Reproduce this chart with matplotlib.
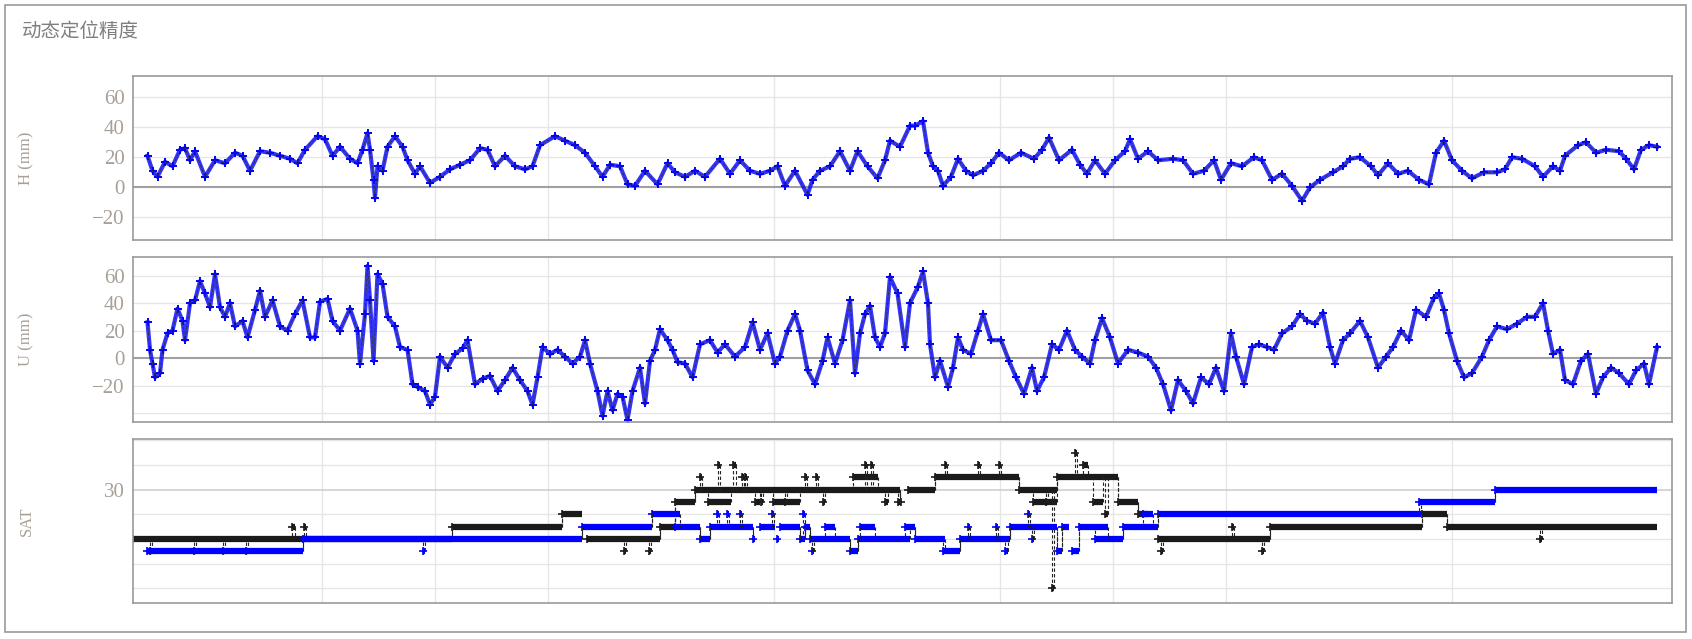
import matplotlib
matplotlib.use("Agg")
import matplotlib.pyplot as plt
from matplotlib.patches import Rectangle
import numpy as np

plt.rcParams['font.family'] = ['Noto Sans CJK SC', 'DejaVu Sans']

title = "动态定位精度"

# ---- H (mm) ----
h_t = [14.5,19.5,24.5,32,39.5,47,52,57,62,72,82,92,102,109.5,117,127,137,147,157,164.5,172,184.5,192,199.5,207,217,224.5,229.5,234.5,237,240.5,242,244.5,249.5,254.5,262,269.5,274.5,282,287,297,307,317,327,337,347,354.5,362,372,382,392,399.5,407,422,432,442,452,462,469.5,477,487,494.5,502,512,524.5,534.5,542,552,562,572,587,597,607,617,627,637,644.5,652,662,674.5,679.5,687,697,707,717,724.5,734.5,744.5,752,757,767,777,782,790,795,800,805,810,818,825,833,840,850,858,866,876,888,901,909,916,926,939,947,954,962,972,982,992,997,1005,1015,1025,1040,1050,1060,1071,1081,1088,1098,1109,1121,1129,1139,1149,1159,1169,1177,1187,1200,1210,1217,1227,1238,1245,1255,1265,1275,1286,1296,1303,1311,1319,1329,1339,1351,1364,1372,1379,1389,1402,1410,1420,1427,1432,1445,1453,1463,1473,1486,1493,1501,1508,1516,1524]
h_v = [21,11,7,17,14,25,26,18,24,7,18,16,23,21,11,24,23,21,19,16,25,34,32,21,27,19,16,25,36,25,5,-7,14,11,27,34,27,18,9,14,3,7,12,15,18,26,25,14,21,14,12,14,28,34,31,28,23,14,7,15,14,2,1,11,2,16,10,7,11,7,19,9,18,11,9,11,14,1,11,-5,5,11,14,24,11,24,14,6,18,31,27,41,41,44,23,14,11,1,7,19,11,8,11,16,23,18,23,19,25,33,18,25,15,9,18,9,18,24,32,19,24,18,19,18,9,11,18,5,16,14,20,18,5,9,1,-9,0,5,10,14,19,20,14,8,16,9,11,5,2,23,31,18,11,6,10,10,12,20,19,14,7,14,11,21,28,30,23,25,24,19,12,25,28,27]

# ---- U (mm) ----
u_t = [14.5,17,19.5,22,27,29.5,34.5,39.5,44.5,49.5,52,57,62,67,72,77,82,87,92,97,102,109.5,114.5,122,127,132,139.5,147,154.5,162,169.5,177,182,187,194.5,199.5,207,217,224.5,227,232,234.5,237,240.5,244.5,249.5,254.5,262,267,274.5,279.5,284.5,292,297,302,307,314.5,322,329.5,334.5,342,349.5,357,364.5,372,379.5,387,394.5,399.5,404.5,409.5,417,424.5,432,439.5,447,452,457,464.5,469.5,474.5,479.5,484.5,489.5,494.5,499.5,507,512,517,522,527,534.5,539.5,544.5,552,559.5,567,577,584.5,592,602,612,619.5,627,634.5,642,647,654.5,662,667,674.5,682,689.5,694.5,702,709.5,717,722,727,732,737,742,747,752,757,764.5,772,777,785,790,795,797,802,807,815,820,825,830,838,845,850,858,868,876,883,891,899,904,911,919,926,934,942,949,957,962,969,977,985,995,1005,1015,1023,1030,1038,1045,1053,1060,1068,1076,1083,1091,1098,1103,1111,1119,1126,1134,1141,1149,1159,1167,1174,1182,1190,1197,1202,1210,1217,1227,1235,1245,1253,1260,1268,1276,1283,1293,1301,1306,1311,1316,1324,1331,1339,1349,1356,1364,1374,1384,1394,1402,1410,1415,1420,1427,1432,1440,1448,1455,1463,1470,1478,1486,1496,1503,1511,1516,1524]
u_v = [26,6,-4,-14,-11,6,18,20,36,27,13,40,42,56,47,37,61,37,30,40,23,27,15,35,49,30,42,23,20,32,42,15,15,41,43,27,20,36,20,-4,32,67,42,-2,61,54,30,23,8,6,-19,-21,-24,-34,-28,1,-7,3,7,13,-19,-15,-13,-24,-16,-7,-16,-24,-34,-14,8,3,6,1,-4,1,13,-4,-24,-42,-24,-38,-26,-28,-45,-24,-7,-33,-2,6,21,13,6,-3,-4,-14,10,13,4,10,1,8,26,6,18,-4,1,20,32,20,-9,-19,-2,15,-4,13,42,-11,18,32,38,15,8,18,59,47,8,40,52,63,40,10,-14,-2,-21,-7,15,6,3,20,32,13,13,-2,-14,-26,-7,-24,-14,10,6,20,6,1,-4,13,29,15,-4,6,4,1,-7,-19,-38,-16,-24,-33,-14,-19,-7,-24,18,1,-19,8,10,8,6,18,23,32,27,25,33,8,-4,13,18,27,15,-7,1,8,20,13,35,30,44,47,35,18,-2,-14,-11,1,13,23,21,25,30,30,40,20,3,6,-16,-19,-2,3,-26,-14,-7,-11,-19,-9,-4,-19,8]

# ---- SAT: segments (start, end, count) ----
sat_blk_s = [0,17,61,90,113,159,171,319,429,454,491,516,527,542,562,567,575,585,600,609,612,622,628,640,652,672,683,690,720,732,738,752,765,768,775,802,812,845,866,886,900,913,919,924,942,950,960,972,985,1005,1025,1028,1099,1129,1137,1289,1314,1407]
sat_blk_e = [319,19,63,92,115,162,173,429,449,527,493,518,542,562,767,569,598,587,603,611,614,627,630,667,654,674,685,692,745,734,740,755,767,767,802,886,814,847,868,924,924,915,921,985,944,955,970,975,1005,1015,1137,1030,1101,1131,1289,1314,1524,1409]
sat_blk_v = [26,25,25,25,25,27,27,27,28,26,25,25,27,29,30,31,29,32,32,31,31,29,29,29,29,31,31,29,31,32,32,29,29,29,30,31,32,32,32,30,29,29,22,31,33,32,29,28,29,28,26,25,27,25,27,28,27,26]

sat_blu_s = [14,170,290,449,519,542,567,577,584,594,607,620,627,639,644,647,667,670,672,677,679,692,717,725,727,772,782,810,827,835,863,872,877,895,899,924,929,939,946,962,990,1010,1025,1286,1362]
sat_blu_e = [170,449,292,519,547,567,577,620,586,596,609,622,642,641,646,667,672,672,677,717,681,702,725,777,742,782,812,827,877,837,865,875,924,897,901,929,936,946,975,990,1025,1020,1288,1362,1524]
sat_blu_v = [25,26,25,27,28,27,26,27,28,28,28,26,27,28,26,27,26,28,27,26,25,27,25,26,27,27,26,25,26,27,27,25,27,28,26,25,27,25,27,26,27,28,28,29,30]

W, H = 1692, 639
fig = plt.figure(figsize=(W/100, H/100), dpi=100)
fig.patches.append(Rectangle((5/W, 7/H), 1681/W, 627/H, transform=fig.transFigure,
                             fill=False, edgecolor='#999999', lw=1.2))
fig.text(22/W, 1-31/H, title, fontsize=14, color='#7f7f7f', va='center', ha='left')

LEFT, RIGHT = 133, 1672
def mkax(top, bot):
    return fig.add_axes([LEFT/W, 1-bot/H, (RIGHT-LEFT)/W, (bot-top)/H])

vgrid = [189, 302, 415, 641, 867, 980, 1093, 1319]
tick_color = '#a89f96'

def style(ax, ylim, yticks, labels, grid_ticks, ylabel):
    ax.set_xlim(0, RIGHT-LEFT)
    ax.set_ylim(*ylim)
    ax.set_xticks([])
    ax.set_yticks(yticks)
    ax.set_yticklabels(labels, fontsize=15, color=tick_color, family=['Liberation Serif'])
    ax.tick_params(axis='y', length=0, pad=6)
    for g in grid_ticks:
        ax.axhline(g, color='#e6e6e6', lw=1, zorder=0)
    for g in vgrid:
        ax.axvline(g, color='#e6e6e6', lw=1, zorder=0)
    for s in ax.spines.values():
        s.set_color('#9a9a9a'); s.set_linewidth(1.2)
    ax.set_ylabel(ylabel, fontsize=12, color=tick_color, family=['Liberation Serif', 'Noto Sans CJK SC'])
    ax.yaxis.set_label_coords(-0.064, 0.5)

def series(ax, t, v):
    ax.plot(t, v, color='#1010ff', lw=3.0, alpha=0.85, zorder=2, solid_joinstyle='round')
    ax.plot(t, v, ls='none', marker='+', ms=6, mew=1.4, color='#0000ff', zorder=2)
    ax.plot(t, v, color='#333333', lw=0.6, ls=(0, (4, 2)), zorder=3)

# H
ax1 = mkax(76, 240)
style(ax1, (-35, 74), [-20, 0, 20, 40, 60], ['\u221220', '0', '20', '40', '60'],
      [-20, 20, 40, 60], "H (mm)")
ax1.axhline(0, color='#a0a0a0', lw=1.5, zorder=1)
series(ax1, h_t, h_v)

# U
ax2 = mkax(257, 422)
style(ax2, (-46.5, 73.5), [-20, 0, 20, 40, 60], ['\u221220', '0', '20', '40', '60'],
      [-40, -20, 20, 40, 60], "U (mm)")
ax2.axhline(0, color='#a0a0a0', lw=1.5, zorder=1)
series(ax2, u_t, u_v)

# SAT
ax3 = mkax(439, 603)
style(ax3, (20.8, 34.1), [30], ['30'], [22, 24, 26, 28, 32, 34], "SAT")
ax3.axhline(30, color='#cfcfcf', lw=1.2, zorder=0)

def sat(ax, s, e, v, color, z):
    s = np.asarray(s, float); e = np.asarray(e, float); v = np.asarray(v, float)
    length = e - s
    for i in range(len(s)):
        for x in (s[i], e[i]):
            cover = [j for j in range(len(s)) if j != i and s[j] <= x <= e[j]]
            if cover:
                j = max(cover, key=lambda k: length[k])
                if v[j] != v[i]:
                    ax.plot([x, x], [v[i], v[j]], color='#222222', lw=0.8,
                            ls=(0, (3, 2)), zorder=z+1)
    ax.hlines(v, s, e, color=color, lw=4.5, zorder=z)
    ax.plot(s, v, ls='none', marker='+', ms=6, mew=1.2, color=color, zorder=z)

sat(ax3, sat_blk_s, sat_blk_e, sat_blk_v, '#1a1a1a', 2)
sat(ax3, sat_blu_s, sat_blu_e, sat_blu_v, '#0000ff', 4)

fig.savefig("out.png", dpi=100)
